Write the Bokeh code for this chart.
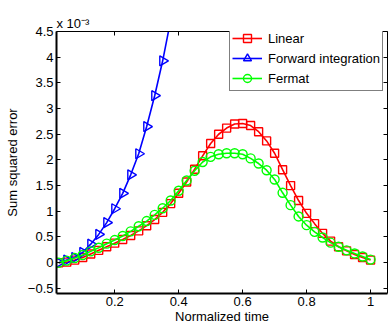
import math
from bokeh.plotting import figure
from bokeh.models import (Range1d, FixedTicker, LinearAxis, Legend,
                          LegendItem, CustomJSTickFormatter)
from bokeh.embed import file_html
from bokeh.resources import INLINE

# ---------------- data (sum squared error, in units of 1e-3) ----------------
time = [0.025, 0.05, 0.075, 0.1, 0.125, 0.15, 0.175, 0.2, 0.225, 0.25,
        0.275, 0.3, 0.325, 0.35, 0.375, 0.4, 0.425, 0.45, 0.475, 0.5,
        0.525, 0.55, 0.575, 0.6, 0.625, 0.65, 0.675, 0.7, 0.725, 0.75,
        0.775, 0.8, 0.825, 0.85, 0.875, 0.9, 0.925, 0.95, 0.975, 1.0]

linear = [0.00, 0.01, 0.05, 0.10, 0.17, 0.24, 0.31, 0.38, 0.45, 0.53,
          0.62, 0.72, 0.84, 0.98, 1.15, 1.35, 1.57, 1.82, 2.08, 2.32,
          2.50, 2.62, 2.70, 2.71, 2.67, 2.55, 2.37, 2.13, 1.81, 1.50,
          1.21, 0.96, 0.76, 0.57, 0.42, 0.31, 0.23, 0.16, 0.10, 0.05]

forward_time = [0.025, 0.05, 0.075, 0.1, 0.125, 0.15, 0.175, 0.2, 0.225,
                0.25, 0.275, 0.3, 0.325, 0.35, 0.375]
forward = [0.00, 0.05, 0.10, 0.20, 0.36, 0.55, 0.78, 1.05, 1.35,
           1.71, 2.12, 2.65, 3.25, 3.93, 4.72]

fermat = [0.00, 0.04, 0.09, 0.15, 0.22, 0.29, 0.37, 0.44, 0.52, 0.61,
          0.71, 0.81, 0.93, 1.06, 1.21, 1.40, 1.60, 1.79, 1.96, 2.06,
          2.11, 2.13, 2.13, 2.11, 2.03, 1.93, 1.80, 1.62, 1.36, 1.12,
          0.90, 0.73, 0.60, 0.49, 0.39, 0.31, 0.24, 0.18, 0.12, 0.06]

series_names = ["Linear", "Forward integration", "Fermat"]

xticks = [0.2, 0.4, 0.6, 0.8, 1.0]
xtick_labels = ["0.2", "0.4", "0.6", "0.8", "1"]
yticks = [-0.5, 0.0, 0.5, 1.0, 1.5, 2.0, 2.5, 3.0, 3.5, 4.0, 4.5]
ytick_labels = ["\u22120.5", "0", "0.5", "1", "1.5", "2", "2.5", "3", "3.5", "4", "4.5"]

x_label = "Normalized time"
y_label = "Sum squared error"
scale_text = "x 10\u207b\u00b3"

# ---------------- styling ----------------
FONT = "Liberation Sans"
FS = "13px"
RED, BLUE, GREEN = "#FF0000", "#0000FF", "#00FF00"

p = figure(width=389, height=326, output_backend="svg", toolbar_location=None,
           x_range=Range1d(0.018, 1.053), y_range=Range1d(-0.6, 4.5),
           min_border_left=56, min_border_right=2, min_border_top=31,
           min_border_bottom=32)
p.background_fill_color = "white"
p.border_fill_color = "white"
p.outline_line_color = None
p.xgrid.visible = False
p.ygrid.visible = False

fmt_code = ("const i = vals.findIndex(v => Math.abs(v - tick) < 1e-9);"
            " return i < 0 ? '' : labs[i];")
xfmt = CustomJSTickFormatter(args=dict(vals=xticks, labs=xtick_labels), code=fmt_code)
yfmt = CustomJSTickFormatter(args=dict(vals=yticks, labs=ytick_labels), code=fmt_code)


def style_axis(ax, ticks, fmt, lw):
    ax.ticker = FixedTicker(ticks=ticks)
    ax.formatter = fmt
    ax.axis_line_color = "black"
    ax.axis_line_width = lw
    ax.major_tick_line_color = "black"
    ax.major_tick_line_width = 1
    ax.major_tick_in = 4
    ax.major_tick_out = 0
    ax.minor_tick_line_color = None
    ax.major_label_text_font = FONT
    ax.major_label_text_font_size = FS
    ax.major_label_text_color = "black"
    ax.major_label_standoff = 3
    ax.axis_label_text_font = FONT
    ax.axis_label_text_font_size = FS
    ax.axis_label_text_font_style = "normal"
    ax.axis_label_text_color = "black"


style_axis(p.xaxis[0], xticks, xfmt, 2)
p.xaxis[0].axis_label = x_label
p.xaxis[0].axis_label_standoff = 0
style_axis(p.yaxis[0], yticks, yfmt, 2)
p.yaxis[0].axis_label = y_label
p.yaxis[0].axis_label_standoff = 5

blank = CustomJSTickFormatter(code="return '';")
top_ax = LinearAxis()
style_axis(top_ax, xticks, blank, 1)
top_ax.major_label_standoff = 0
p.add_layout(top_ax, "above")
right_ax = LinearAxis()
style_axis(right_ax, yticks, blank, 1)
right_ax.major_label_standoff = 0
p.add_layout(right_ax, "right")

p.title.text = scale_text
p.title.align = "left"
p.title.text_font = FONT
p.title.text_font_size = FS
p.title.text_font_style = "normal"
p.title.text_color = "black"
p.title.standoff = 1
p.title.offset = 0

# ---------------- series ----------------
lw = 1.6
r_lin_l = p.line(time, linear, line_color=RED, line_width=lw)
r_lin_m = p.scatter(time, linear, marker="square", size=8, line_color=RED,
                    fill_color=None, line_width=1.4)
r_fwd_l = p.line(forward_time, forward, line_color=BLUE, line_width=lw)
r_fwd_m = p.scatter(forward_time, forward, marker="triangle", angle=-math.pi / 2,
                    size=10, line_color=BLUE, fill_color=None, line_width=1.4)
r_fer_l = p.line(time, fermat, line_color=GREEN, line_width=lw)
r_fer_m = p.scatter(time, fermat, marker="circle", size=9, line_color=GREEN,
                    fill_color=None, line_width=1.4)

legend = Legend(items=[
    LegendItem(label=series_names[0], renderers=[r_lin_l, r_lin_m]),
    LegendItem(label=series_names[1], renderers=[r_fwd_l, r_fwd_m]),
    LegendItem(label=series_names[2], renderers=[r_fer_l, r_fer_m]),
], location=(173, 202))
legend.label_text_font = FONT
legend.label_text_font_size = FS
legend.label_text_color = "black"
legend.label_height = 14
legend.glyph_height = 20
legend.glyph_width = 30
legend.spacing = -3
legend.padding = 2
legend.margin = 0
legend.label_standoff = 6
legend.border_line_color = "black"
legend.border_line_width = 1
legend.background_fill_color = "white"
legend.background_fill_alpha = 1.0
p.add_layout(legend)

open("out.html", "w").write(file_html(p, INLINE))
